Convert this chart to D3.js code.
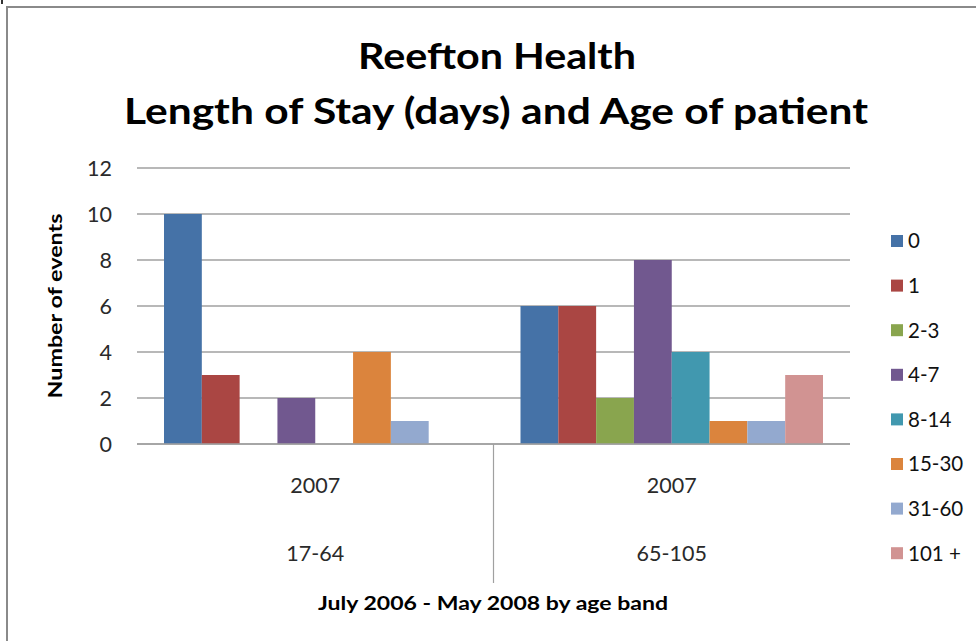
<!DOCTYPE html>
<meta charset="utf-8">
<style>
body { margin: 0; background: #fff; }
text { font-family: Lato, "Open Sans", sans-serif; }
.grid line { stroke: #a0a0a0; stroke-width: 1.5px; }
.ticks text { font-size: 21.5px; fill: #2a2a2a; }
.legend text { font-size: 20.5px; fill: #111; }
</style>
<svg width="976" height="641"></svg>
<script src="https://d3js.org/d3.v7.min.js"></script>
<script>

// data
var ageBands = ["17-64", "65-105"];
var yearLabels = ["2007", "2007"];
var stayBands = ["0", "1", "2-3", "4-7", "8-14", "15-30", "31-60", "101 +"];
var young = [10, 3, 0, 2, 0, 4, 1, 0];
var old = [6, 6, 2, 8, 4, 1, 1, 3];
var yTicks = [0, 2, 4, 6, 8, 10, 12];
var colors = ["#4572A7", "#AA4643", "#89A54E", "#71588F", "#4198AF", "#DB843D", "#93A9CF", "#D19392"];

var seriesValues = [young, old];

var svg = d3.select("svg");

// chart border (only left and top show in the shot)
svg.append("path")
    .attr("d", "M7,641V7H976")
    .attr("fill", "none")
    .attr("stroke", "#8a8a8a")
    .attr("stroke-width", 2);
svg.append("line")
    .attr("x1", 2).attr("x2", 2).attr("y1", 0).attr("y2", 4)
    .attr("stroke", "#333").attr("stroke-width", 2);

var plotLeft = 137, plotRight = 850, plotTop = 168, plotBottom = 444;

var y = d3.scaleLinear().domain([0, 12]).range([plotBottom, plotTop]);

var x0 = d3.scaleBand()
    .domain(ageBands)
    .range([plotLeft, plotRight])
    .paddingInner(0)
    .paddingOuter(0);

var x1 = d3.scaleBand()
    .domain(stayBands)
    .range([27, x0.bandwidth() - 27]);

// gridlines
svg.append("g")
    .attr("class", "grid")
    .selectAll("line")
    .data(yTicks)
    .enter().append("line")
      .attr("x1", plotLeft)
      .attr("x2", plotRight)
      .attr("y1", function(d) { return y(d); })
      .attr("y2", function(d) { return y(d); });

svg.append("g")
    .attr("class", "ticks")
    .selectAll("text")
    .data(yTicks)
    .enter().append("text")
      .attr("x", 112)
      .attr("y", function(d) { return y(d); })
      .attr("dy", "0.35em")
      .attr("text-anchor", "end")
      .text(function(d) { return d; });

// bars
var groups = svg.append("g")
    .selectAll("g")
    .data(ageBands)
    .enter().append("g")
      .attr("transform", function(d) { return "translate(" + x0(d) + ",0)"; });

groups.selectAll("rect")
    .data(function(d, i) {
      return stayBands.map(function(s, j) { return { key: s, value: seriesValues[i][j], idx: j }; });
    })
    .enter().append("rect")
      .attr("x", function(d) { return x1(d.key); })
      .attr("width", x1.bandwidth())
      .attr("y", function(d) { return y(d.value); })
      .attr("height", function(d) { return plotBottom - y(d.value); })
      .attr("fill", function(d) { return colors[d.idx]; });

// category axis (two levels)
svg.append("line")
    .attr("x1", plotLeft).attr("x2", plotRight)
    .attr("y1", plotBottom).attr("y2", plotBottom)
    .attr("stroke", "#a0a0a0").attr("stroke-width", 1.5);

svg.append("line")
    .attr("x1", x0(ageBands[1])).attr("x2", x0(ageBands[1]))
    .attr("y1", plotBottom).attr("y2", 583)
    .attr("stroke", "#a0a0a0").attr("stroke-width", 1.2);

svg.append("g")
    .attr("class", "ticks")
    .selectAll("text")
    .data(yearLabels)
    .enter().append("text")
      .attr("x", function(d, i) { return x0(ageBands[i]) + x0.bandwidth() / 2; })
      .attr("y", 493)
      .attr("text-anchor", "middle")
      .text(function(d) { return d; });

svg.append("g")
    .attr("class", "ticks")
    .selectAll("text")
    .data(ageBands)
    .enter().append("text")
      .attr("x", function(d) { return x0(d) + x0.bandwidth() / 2; })
      .attr("y", 561)
      .attr("text-anchor", "middle")
      .text(function(d) { return d; });

// titles
svg.append("text")
    .attr("x", 497).attr("y", 69)
    .attr("text-anchor", "middle")
    .style("font-size", "36px").style("font-weight", "bold")
    .attr("textLength", 278).attr("lengthAdjust", "spacingAndGlyphs")
    .text("Reefton Health");

svg.append("text")
    .attr("x", 496).attr("y", 124)
    .attr("text-anchor", "middle")
    .style("font-size", "36px").style("font-weight", "bold")
    .attr("textLength", 744).attr("lengthAdjust", "spacingAndGlyphs")
    .text("Length of Stay (days) and Age of patient");

svg.append("text")
    .attr("x", 493).attr("y", 610)
    .attr("text-anchor", "middle")
    .style("font-size", "19px").style("font-weight", "bold")
    .attr("textLength", 350).attr("lengthAdjust", "spacingAndGlyphs")
    .text("July 2006 - May 2008 by age band");

svg.append("text")
    .attr("transform", "translate(62,306) rotate(-90)")
    .attr("text-anchor", "middle")
    .style("font-size", "19px").style("font-weight", "bold")
    .attr("textLength", 185).attr("lengthAdjust", "spacingAndGlyphs")
    .text("Number of events");

// legend
var legend = svg.append("g")
    .attr("class", "legend")
    .selectAll("g")
    .data(stayBands)
    .enter().append("g")
      .attr("transform", function(d, i) { return "translate(891," + (241 + i * 44.6) + ")"; });

legend.append("rect")
    .attr("x", 0).attr("y", -6)
    .attr("width", 12).attr("height", 12)
    .attr("fill", function(d, i) { return colors[i]; });

legend.append("text")
    .attr("x", 17)
    .attr("dy", "0.36em")
    .text(function(d) { return d; });

</script>
